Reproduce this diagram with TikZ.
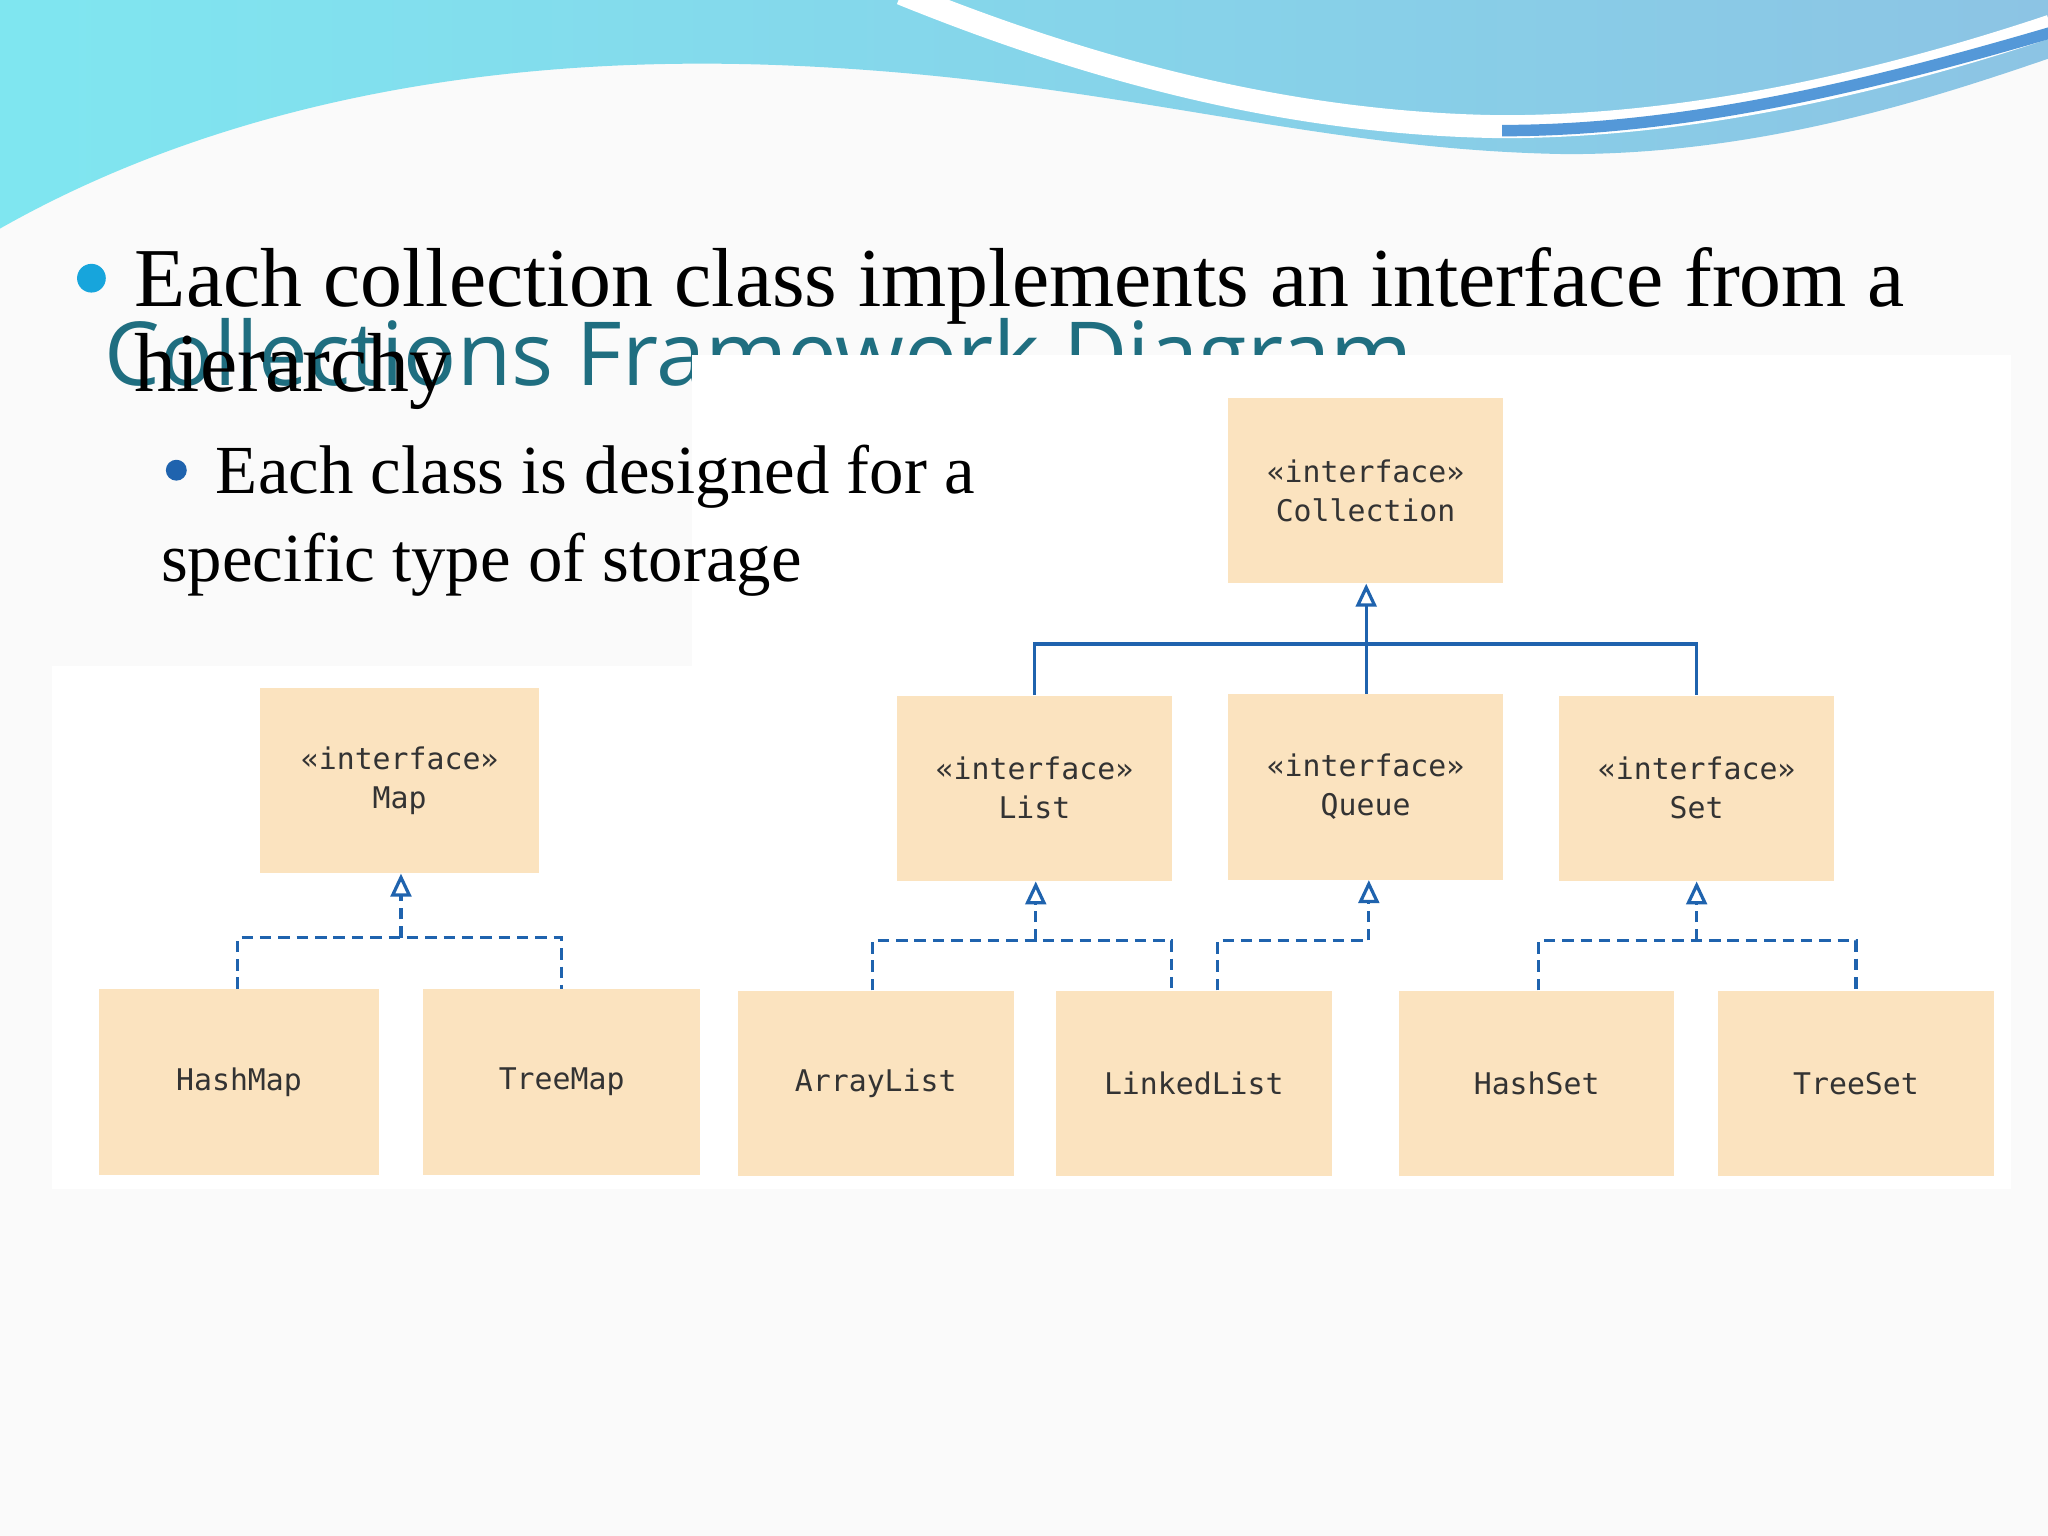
\documentclass[tikz,border=0pt]{standalone}
\usepackage{fontspec}
\setmainfont{Liberation Serif}
\newfontfamily\titlefont{Open Sans}
\newfontfamily\boxfont{DejaVu Sans Mono}
\usetikzlibrary{arrows.meta}
\definecolor{boxc}{HTML}{FBE3BF}
\definecolor{linec}{HTML}{1F63AE}
\definecolor{titc}{HTML}{1F6E80}
\definecolor{wavea}{HTML}{7FE6F0}
\definecolor{waveb}{HTML}{8CC4E4}
\tikzset{
 cls/.style={fill=boxc,draw=none,minimum width=4.22cm,minimum height=2.84cm,align=center,font=\boxfont\fontsize{13}{17}\selectfont,inner sep=0pt,text=black!80},
 inh/.style={draw=linec,line width=1.4pt,-{Triangle[open,length=10pt,width=9pt]}},
 link/.style={draw=linec,line width=1.4pt},
 dlink/.style={draw=linec,line width=1.4pt,dash pattern=on 5pt off 3pt},
 dinh/.style={inh,dash pattern=on 5pt off 3pt}
}
\begin{document}
\begin{tikzpicture}[x=0.02cm,y=-0.02cm]
\useasboundingbox (0,0) rectangle (1568,1176);
\fill[black!2] (0,0) rectangle (1568,1176);
% wave
\shade[left color=wavea,right color=waveb]
 (0,0)--(0,175) .. controls (150,90) and (350,40) .. (600,50) .. controls (850,60) and (1000,115) .. (1200,118) .. controls (1350,118) and (1480,75) .. (1568,45) -- (1568,0) -- cycle;
\draw[white,line width=10pt] (690,-5) .. controls (850,60) and (1000,95) .. (1150,97) .. controls (1300,97) and (1450,60) .. (1570,20);
\draw[cyan!60!blue!70!white,line width=5pt] (1150,100) .. controls (1300,100) and (1450,60) .. (1570,25);
% title
\node[anchor=base west,inner sep=0pt,text=titc,font=\titlefont\fontsize{38.5}{44}\selectfont] (title) at (80,295) {Collections Framework Diagram};
\fill[white] (530,272) rectangle (1540,910);
\fill[white] (40,510) rectangle (1540,910);
% bullets
\fill[cyan!80!teal] (70,213) circle (11);
\node[anchor=base west,inner sep=0pt,font=\fontsize{36.5}{44}\selectfont] (l1) at (103,235) {Each collection class implements an interface from a};
\node[anchor=base west,inner sep=0pt,font=\fontsize{36.5}{44}\selectfont] (l2) at (103,300) {hierarchy};
\fill[linec] (135,360) circle (8);
\node[anchor=base west,inner sep=0pt,font=\fontsize{30}{36}\selectfont] (l3) at (165,378) {Each class is designed for a};
\node[anchor=base west,inner sep=0pt,font=\fontsize{30}{36}\selectfont] (l4) at (123,445) {specific type of storage};
% boxes
\node[cls] (coll) at (1045.5,375.5) {«interface»\\Collection};
\node[cls,minimum width=4.28cm] (map) at (306,597.5) {«interface»\\Map};
\node[cls] (list) at (792,603.5) {«interface»\\List};
\node[cls] (queue) at (1045.5,602.5) {«interface»\\Queue};
\node[cls] (set) at (1299,603.5) {«interface»\\Set};
\node[cls,minimum width=4.28cm] (hm) at (183,828.5) {HashMap};
\node[cls,minimum width=4.24cm] (tm) at (430,828.5) {TreeMap};
\node[cls] (al) at (670.5,829.5) {ArrayList};
\node[cls] (ll) at (914,829.5) {LinkedList};
\node[cls] (hs) at (1176.5,829.5) {HashSet};
\node[cls] (ts) at (1421,829.5) {TreeSet};
% solid inheritance
\coordinate (cj) at (1046,493);
\draw[inh] (cj) -- (coll.south -| cj);
\draw[link] (list.north) |- (cj) -| (set.north);
\draw[link] (queue.north -| cj) -- (cj);
% map
\coordinate (mj) at (307,718);
\draw[dinh] (mj) -- (map.south -| mj);
\draw[dlink] (hm.north -| 182,0) |- (mj) -| (tm.north -| 430,0);
% list
\coordinate (lj) at (793,720);
\draw[dinh] (lj) -- (list.south -| lj);
\draw[dlink] (al.north -| 668,0) |- (lj) -| (ll.north -| 897,0);
% queue
\coordinate (qj) at (1048,720);
\draw[dinh] (qj) -- (queue.south -| qj);
\draw[dlink] (ll.north -| 932,0) |- (qj);
% set
\coordinate (sj) at (1299,720);
\draw[dinh] (sj) -- (set.south -| sj);
\draw[dlink] (hs.north -| 1178,0) |- (sj) -| (ts.north -| 1421,0);
\end{tikzpicture}
\end{document}
